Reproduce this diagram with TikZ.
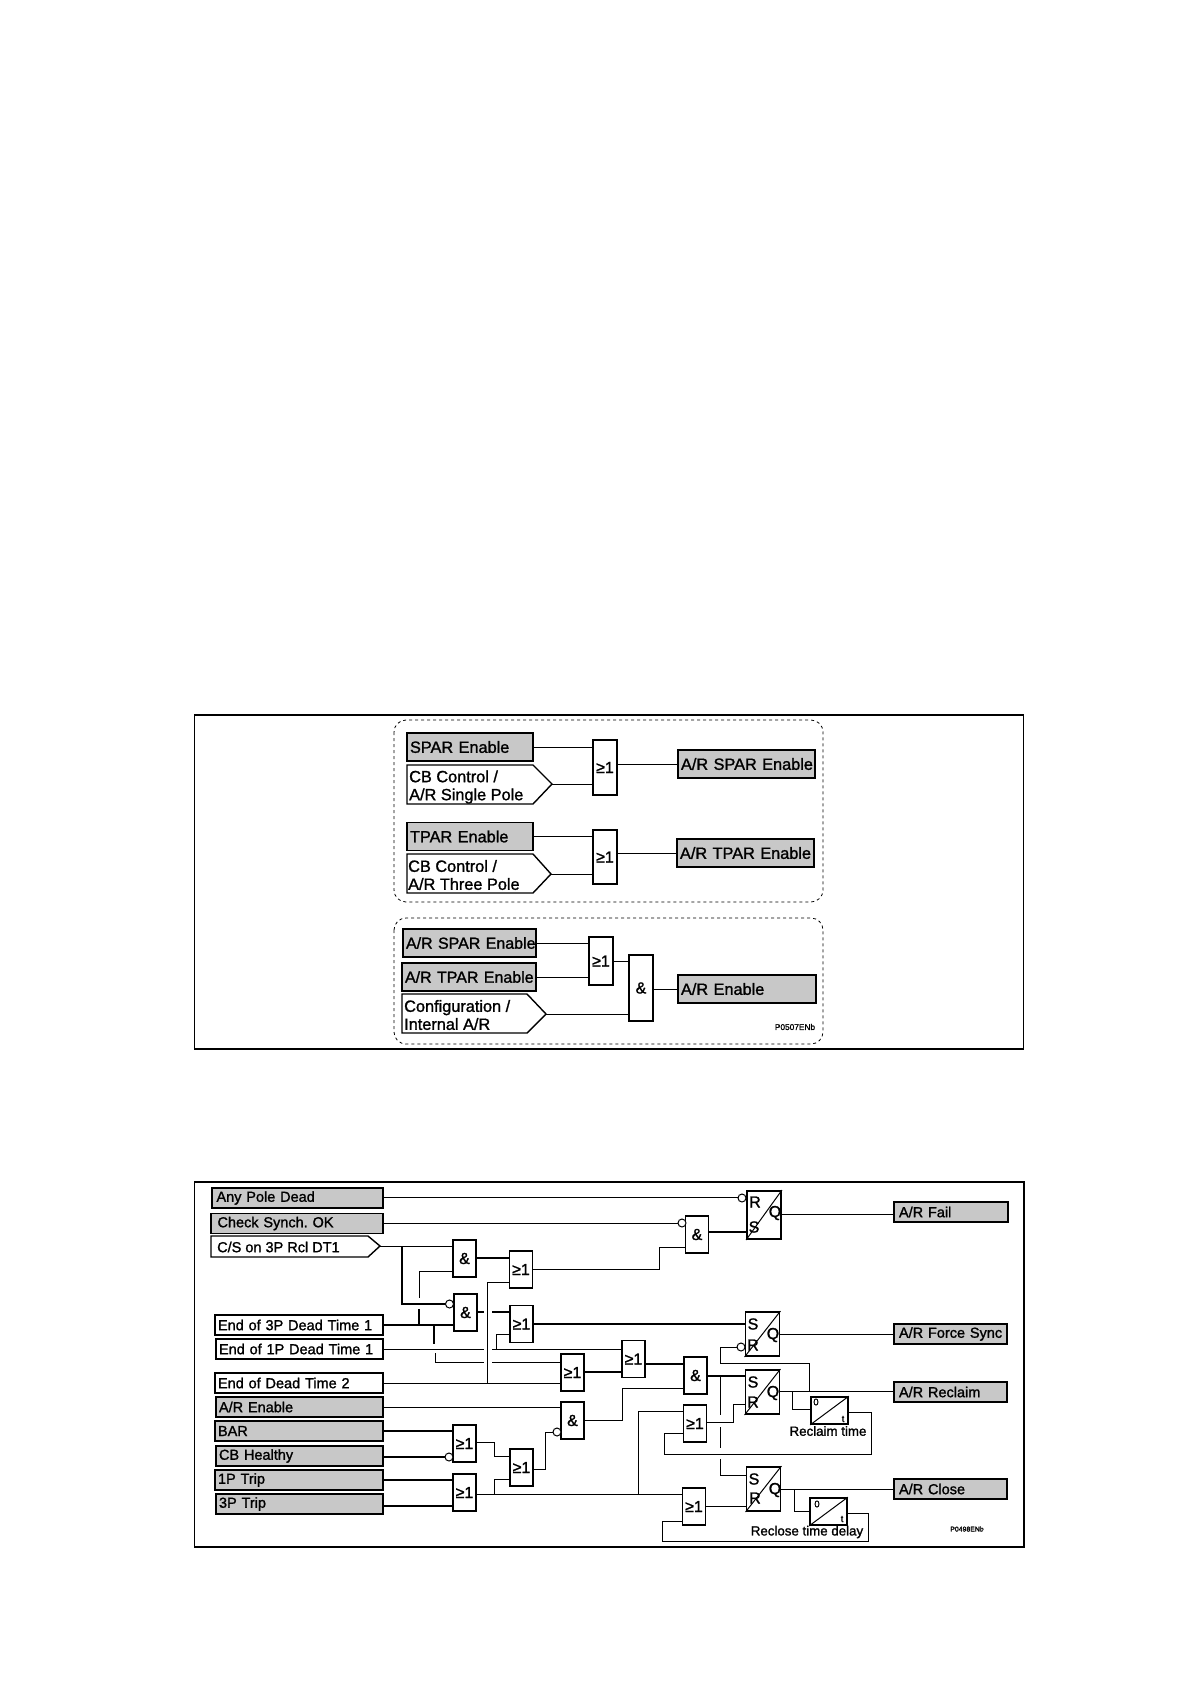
\documentclass[tikz,border=0pt]{standalone}
\usepackage{fontspec}
\newfontfamily\lblfont[RawFeature={embolden=1.3}]{Liberation Sans}
\newcommand{\sizeup}{\fontsize{16.3}{18}\lblfont\selectfont}
\newcommand{\sizemid}{\fontsize{16}{18}\lblfont\selectfont}
\newcommand{\sizelow}{\fontsize{14.5}{17}\lblfont\selectfont}
\newcommand{\sizeold}{\fontsize{13.3}{15}\lblfont\selectfont}
\newcommand{\sizegate}{\fontsize{16}{17}\lblfont\selectfont}
\newcommand{\sizetiny}{\fontsize{8.3}{9}\lblfont\selectfont}
\newcommand{\sizemini}{\fontsize{6.9}{8}\lblfont\selectfont}
\newcommand{\sizetim}{\fontsize{9.5}{10}\lblfont\selectfont}
\definecolor{boxgrey}{HTML}{C8C8C8}

\begin{document}
\begin{tikzpicture}[x=1pt, y=-1pt,
  wire/.style={line width=1pt},
  wirethick/.style={line width=1.8pt},
  frame/.style={line width=1.8pt},
  gate/.style={draw, line width=1.7pt, fill=white, minimum width=23pt, minimum height=37pt, inner sep=0pt, font=\sizegate},
  srblock/.style={draw, line width=1.9pt, minimum width=34pt, minimum height=44pt, inner sep=0pt},
  timer/.style={draw, line width=1.7pt, minimum width=37pt, minimum height=27pt, inner sep=0pt},
  inv/.style={draw, circle, line width=1pt, fill=white, minimum size=8pt, inner sep=0pt},
  tagup/.style={draw, line width=1.8pt, outer sep=0pt, anchor=west, inner xsep=3pt, inner ysep=0pt, text width=#1, minimum height=28pt, font=\sizeup},
  taglow/.style={draw, line width=1.8pt, outer sep=0pt, anchor=west, inner xsep=3pt, inner ysep=0pt, text width=#1, minimum height=20pt, font=\sizelow},
  penttext/.style={anchor=west, inner sep=0pt, align=left},
  pin/.style={inner sep=0pt, font=\sizegate}]
  \useasboundingbox (0,0) rectangle (1191,1684);

  % upper figure
  \draw[frame] (194.5,715) rectangle (1023.5,1049);
  \draw[dashed, line width=0.8pt, rounded corners=12pt] (394,720) rectangle (823,902);
  \draw[dashed, line width=0.8pt, rounded corners=12pt] (394,918) rectangle (823,1044);

  \node[tagup=120pt, fill=boxgrey] (spar) at (407,747) {SPAR Enable};
  \node[tagup=120pt, fill=boxgrey] (tpar) at (407,836.5) {TPAR Enable};
  \node[tagup=127pt, fill=boxgrey, font=\sizemid] (sparb) at (403,943) {\mbox{A/R SPAR Enable}};
  \node[tagup=128pt, fill=boxgrey, font=\sizemid] (tparb) at (402,977) {\mbox{A/R TPAR Enable}};
  \node[tagup=131pt, fill=boxgrey] (arspar) at (678,764) {\mbox{A/R SPAR Enable}};
  \node[tagup=131pt, fill=boxgrey] (artpar) at (677,853) {\mbox{A/R TPAR Enable}};
  \node[tagup=132pt, fill=boxgrey, line width=2.4pt] (arenable) at (678,989) {A/R Enable};

  % pentagon inputs
  \coordinate (singletip) at (552,784);
  \coordinate (threetip) at (551,874);
  \coordinate (configtip) at (546,1014);
  \draw[line width=1.4pt] (407,765) -- (533,765) -- (singletip) -- (533,804) -- (407,804) -- cycle;
  \draw[line width=1.4pt] (407,854) -- (533,854) -- (threetip) -- (533,893) -- (407,893) -- cycle;
  \draw[line width=1.4pt] (402,994) -- (527,994) -- (configtip) -- (527,1033) -- (402,1033) -- cycle;
  \node[penttext, font=\sizeup] (singletxt) at (409,787) {CB Control /\\A/R Single Pole};
  \node[penttext, font=\sizeup] (threetxt) at (408,875) {CB Control /\\A/R Three Pole};
  \node[penttext, font=\sizeup] (configtxt) at (404,1015) {Configuration /\\Internal A/R};

  \node[gate, minimum width=24pt, minimum height=55pt] (orspar) at (605,767.5) {≥1};
  \node[gate, minimum width=24pt, minimum height=54pt, line width=1.4pt] (ortpar) at (605,857) {≥1};
  \node[gate, minimum width=24pt, minimum height=48pt, line width=1.4pt] (orboth) at (601,961) {≥1};
  \node[gate, minimum width=24pt, minimum height=66pt, line width=1.4pt] (andcfg) at (641,988) {\&};

  \draw[wire] (spar.east) -- (spar.east -| orspar.west);
  \draw[wire] (singletip) -- (singletip -| orspar.west);
  \draw[wire] (orspar.east |- arspar.west) -- (arspar.west);
  \draw[wire] (tpar.east) -- (tpar.east -| ortpar.west);
  \draw[wire] (threetip) -- (threetip -| ortpar.west);
  \draw[wire] (ortpar.east |- artpar.west) -- (artpar.west);
  \draw[wire] (sparb.east) -- (sparb.east -| orboth.west);
  \draw[wire] (tparb.east) -- (tparb.east -| orboth.west);
  \draw[wire] (orboth.east) -- (orboth.east -| andcfg.west);
  \draw[wire] (configtip) -- (configtip -| andcfg.west);
  \draw[wire] (andcfg.east |- arenable.west) -- (arenable.west);
  \node[inner sep=0pt, font=\sizetiny] (codeup) at (795,1027) {P0507ENb};

  % lower figure
  \draw[frame] (194.5,1182) rectangle (1024,1547);

  \node[taglow=162pt, fill=boxgrey, inner xsep=4.5pt] (anypole) at (212,1198) {Any Pole Dead};
  \node[taglow=159pt, fill=boxgrey, inner xsep=6.5pt] (checksyn) at (211,1223.5) {Check Synch.\ OK};
  \node[taglow=162pt] (end3p) at (215,1325) {End of 3P Dead Time 1};
  \node[taglow=161pt] (end1p) at (216,1349) {End of 1P Dead Time 1};
  \node[taglow=162pt] (end2) at (215,1383) {End of Dead Time 2};
  \node[taglow=161pt, fill=boxgrey] (arenb) at (216,1407) {A/R Enable};
  \node[taglow=162pt, fill=boxgrey] (bar) at (215,1431) {BAR};
  \node[taglow=161pt, fill=boxgrey] (cbhealthy) at (216,1456) {CB Healthy};
  \node[taglow=162pt, fill=boxgrey] (trip1p) at (215,1480) {1P Trip};
  \node[taglow=161pt, fill=boxgrey] (trip3p) at (216,1504) {3P Trip};
  \node[taglow=104pt, fill=boxgrey, inner xsep=5pt] (arfail) at (894,1212) {A/R Fail};
  \node[taglow=103pt, fill=boxgrey, inner xsep=5pt, line width=1.3pt] (arforce) at (894,1334) {\mbox{A/R Force Sync}};
  \node[taglow=103pt, fill=boxgrey, inner xsep=5pt] (arreclaim) at (894,1392) {A/R Reclaim};
  \node[taglow=103pt, fill=boxgrey, inner xsep=5pt] (arclose) at (894,1489) {A/R Close};

  \coordinate (cstip) at (380,1246);
  \draw[line width=1.4pt] (211,1236) -- (368,1236) -- (cstip) -- (368,1257) -- (211,1257) -- cycle;
  \node[penttext, font=\sizelow] (cstxt) at (217,1247) {C/S on 3P Rcl DT1};

  % gates
  \node[gate] (ga) at (464.5,1258.5) {\&};
  \node[gate] (gb) at (521,1269.5) {≥1};
  \node[gate] (gc) at (465.5,1312.5) {\&};
  \node[gate] (gd) at (521.5,1324) {≥1};
  \node[gate] (ge) at (572.5,1372.5) {≥1};
  \node[gate] (gf) at (633.5,1359) {≥1};
  \node[gate] (gg) at (695.5,1375.5) {\&};
  \node[gate] (gh) at (572.5,1420.5) {\&};
  \node[gate] (gi) at (521.5,1467.5) {≥1};
  \node[gate] (gj) at (464.5,1443.5) {≥1};
  \node[gate] (gk) at (464.5,1492.5) {≥1};
  \node[gate] (gl) at (697,1234.5) {\&};
  \node[gate] (gm) at (695,1423.5) {≥1};
  \node[gate] (gn) at (694,1506.5) {≥1};

  % flip-flops
  \node[srblock, minimum height=48pt] (sra) at (764,1215) {};
  \node[srblock] (srb) at (762.5,1334) {};
  \node[srblock] (src) at (762.5,1392) {};
  \node[srblock] (srd) at (763.5,1489) {};
  \draw[wire] (sra.south west) -- (sra.north east);
  \draw[wire] (srb.south west) -- (srb.north east);
  \draw[wire] (src.south west) -- (src.north east);
  \draw[wire] (srd.south west) -- (srd.north east);
  \node[pin] (sraR) at (755,1202) {R};
  \node[pin] (sraS) at (754,1227) {S};
  \node[pin] (sraQ) at (775,1213) {Q};
  \node[pin] (srbS) at (753,1324) {S};
  \node[pin] (srbR) at (753,1345) {R};
  \node[pin] (srbQ) at (773,1335) {Q};
  \node[pin] (srcS) at (753,1382) {S};
  \node[pin] (srcR) at (753,1402) {R};
  \node[pin] (srcQ) at (773,1393) {Q};
  \node[pin] (srdS) at (754,1479) {S};
  \node[pin] (srdR) at (755,1498) {R};
  \node[pin] (srdQ) at (775,1490) {Q};

  % timers
  \node[timer] (tma) at (829.5,1410.5) {};
  \node[timer] (tmb) at (828.5,1511.5) {};
  \draw[wire] (tma.south west) -- (tma.north east);
  \draw[wire] (tmb.south west) -- (tmb.north east);
  \node[pin, font=\sizetim] (tmazero) at (816,1402) {0};
  \node[pin, font=\sizetim] (tmat) at (843,1419) {t};
  \node[pin, font=\sizetim] (tmbzero) at (817,1504) {0};
  \node[pin, font=\sizetim] (tmbt) at (842,1519) {t};
  \node[inner sep=0pt, font=\sizeold] (reclaimtxt) at (828,1431) {Reclaim time};
  \node[inner sep=0pt, font=\sizeold] (reclosetxt) at (807,1532) {Reclose time delay};
  \node[inner sep=0pt, font=\sizemini] (codelow) at (967,1529) {P0498ENb};

  % wires into inverted inputs
  \draw[wire] (anypole.east |- 0,1197) -- (sra.west |- 0,1197);
  \draw[wire] (checksyn.east |- 0,1223) -- (gl.west |- 0,1223);
  \draw[wirethick] (402,1246) |- (gc.west |- 0,1304);
  \draw[wirethick] (cbhealthy.east |- 0,1457) -- (gj.west |- 0,1457);
  \draw[wire] (gi.east |- 0,1469) -- (545,1469) |- (gh.west |- 0,1432);
  \draw[wire] (srb.west |- 0,1347) -- (720,1347) |- (809,1363) -- (809,1391);

  % first row
  \draw[wire] (cstip) -- (cstip -| ga.west);
  \draw[wire] (ga.west |- 0,1271) -| (419,1298);
  \draw[wirethick] (419,1309) -- (419,1326);
  \draw[wirethick] (end3p.east) -- (end3p.east -| gc.west);
  \draw[wirethick] (434,1325) -- (434,1344);
  \draw[wire] (435,1353) |- (484,1362);
  \draw[wire] (492,1362) -- (ge.west |- 0,1362);
  \draw[wire] (end1p.east) -- (484,1349);
  \draw[wire] (492,1349) -- (gf.west |- 0,1349);
  \draw[wire] (496,1349) |- (gd.west |- 0,1334);
  \draw[wirethick] (ga.east |- 0,1258) -- (gb.west |- 0,1258);
  \draw[wire] (gb.west |- 0,1282) -| (487,1384);
  \draw[wire] (gb.east |- 0,1269) -| (659,1247) -- (gl.west |- 0,1247);
  \draw[wirethick] (gl.east |- 0,1232) -- (sra.west |- 0,1232);
  \draw[wirethick] (gc.east |- 0,1312) -- (484,1312);
  \draw[wirethick] (492,1312) -- (gd.west |- 0,1312);
  \draw[wirethick] (gd.east |- 0,1324) -- (srb.west |- 0,1324);
  \draw[wire] (end2.east) -- (end2.east -| ge.west);
  \draw[wire] (arenb.east) -- (arenb.east -| gh.west);
  \draw[wirethick] (bar.east) -- (bar.east -| gj.west);
  \draw[wirethick] (trip1p.east) -- (trip1p.east -| gk.west);
  \draw[wirethick] (trip3p.east |- 0,1506) -- (gk.west |- 0,1506);
  \draw[wire] (gj.east |- 0,1442) -- (494,1442) |- (gi.west |- 0,1456);
  \draw[wire] (gk.east |- 0,1494) -- (gn.west |- 0,1494);
  \draw[wire] (494,1494) |- (gi.west |- 0,1479);
  \draw[wire] (638,1494) |- (gm.west |- 0,1411);
  \draw[wirethick] (ge.east |- 0,1372) -- (gf.west |- 0,1372);
  \draw[wirethick] (gf.east |- 0,1364) -- (gg.west |- 0,1364);
  \draw[wire] (gh.east |- 0,1420) -| (622,1388) -- (gg.west |- 0,1388);
  \draw[wirethick] (gg.east |- 0,1376) -- (src.west |- 0,1376);

  % outputs and feedback
  \draw[wire] (sra.east |- 0,1214) -- (arfail.west |- 0,1214);
  \draw[wire] (srb.east) -- (arforce.west);
  \draw[wire] (src.east |- 0,1391) -- (arreclaim.west |- 0,1391);
  \draw[wire] (srd.east) -- (arclose.west);
  \draw[wire] (792,1391) |- (tma.west |- 0,1409);
  \draw[wire] (tma.east |- 0,1412) -| (871,1454) -| (664,1433) -- (gm.west |- 0,1433);
  \draw[wire] (gm.east |- 0,1422) -| (733,1404) -- (src.west |- 0,1404);
  \draw[wire] (720,1376) -- (720,1415);
  \draw[wire] (720,1427) -- (720,1448);
  \draw[wire] (720,1459) |- (srd.west |- 0,1475);
  \draw[wire] (gn.east |- 0,1506) -- (srd.west |- 0,1506);
  \draw[wire] (794,1489) |- (tmb.west |- 0,1511);
  \draw[wire] (tmb.east |- 0,1513) -| (868,1541) -| (662,1521) -- (gn.west |- 0,1521);

  % inverters on top of the wires
  \node[inv] (inva) at (742,1198) {};
  \node[inv] (invb) at (682,1223) {};
  \node[inv] (invc) at (449.5,1304) {};
  \node[inv] (invd) at (449,1457) {};
  \node[inv] (inve) at (557,1432) {};
  \node[inv] (invf) at (741,1347) {};
\end{tikzpicture}
\end{document}
